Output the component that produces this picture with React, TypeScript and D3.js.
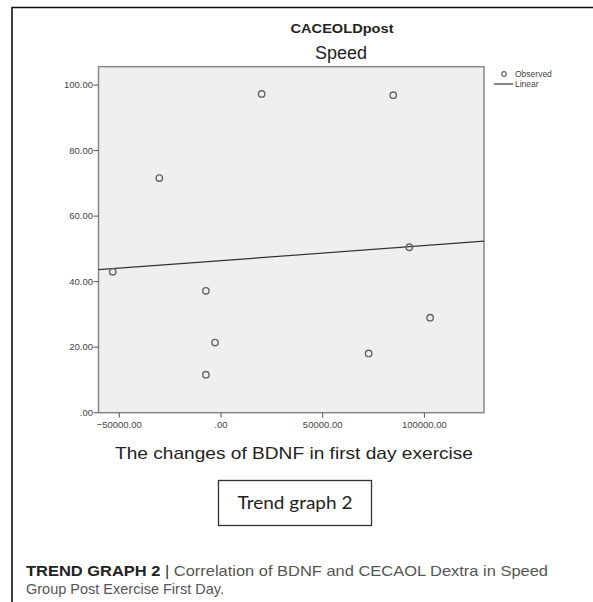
import * as d3 from 'd3';

// Observed points (BDNF change vs CACEOLDpost speed score)
const bdnfChange = [-53200, -30300, 20000, -7400, -2900, -7400, 84700, 92600, 102800, 72600];
const speedScore = [43.0, 71.6, 97.3, 37.2, 21.4, 11.6, 96.9, 50.5, 29.0, 18.1];

const xTicks = [-50000, 0, 50000, 100000];
const yTicks = [0, 20, 40, 60, 80, 100];

const X_DOMAIN: [number, number] = [-60200, 129300];
const Y_DOMAIN: [number, number] = [0, 105.6];

const W = 593;
const H = 602;
const plot = { left: 98.5, right: 484, top: 66.7, bottom: 412.7 };

// SPSS style labels: ".00", "-50000.00"
const spssFmt = (v: number) => d3.format('.2f')(v).replace(/^(-?)0\./, '$1.');

export default function App() {
  const x = d3.scaleLinear().domain(X_DOMAIN).range([plot.left, plot.right]);
  const y = d3.scaleLinear().domain(Y_DOMAIN).range([plot.bottom, plot.top]);

  // least squares fit for the "Linear" line
  const mx = d3.mean(bdnfChange) as number;
  const my = d3.mean(speedScore) as number;
  const sxy = d3.sum(bdnfChange, (v, i) => (v - mx) * (speedScore[i] - my));
  const sxx = d3.sum(bdnfChange, (v) => (v - mx) * (v - mx));
  const slope = sxy / sxx;
  const fit = (v: number) => my + slope * (v - mx);
  const line = d3.line<number>().x((d) => x(d)).y((d) => y(fit(d)));

  const sans = 'Arial, "Liberation Sans", sans-serif';

  return (
    <svg
      width={W}
      height={H}
      style={{ position: 'absolute', left: 0, top: 0, background: '#fff' }}
      fontFamily={sans}
    >
      {/* outer frame */}
      <path d={`M12,${H} V7.5 H${W}`} fill="none" stroke="#111" strokeWidth={1.6} />

      {/* titles */}
      <text x={342} y={33} textAnchor="middle" fontWeight="bold" fontSize={13} fill="#222" textLength={103} lengthAdjust="spacingAndGlyphs">
        CACEOLDpost
      </text>
      <text x={341} y={59} textAnchor="middle" fontSize={18} fill="#222">
        Speed
      </text>

      {/* plot area */}
      <rect
        x={plot.left}
        y={plot.top}
        width={plot.right - plot.left}
        height={plot.bottom - plot.top}
        fill="#efefef"
        stroke="#888"
        strokeWidth={1.5}
      />

      {/* y axis */}
      {yTicks.map((t) => (
        <g key={`y${t}`}>
          <line x1={plot.left - 5} x2={plot.left} y1={y(t)} y2={y(t)} stroke="#555" strokeWidth={1} />
          <text x={plot.left - 5.5} y={y(t)} dy="0.35em" textAnchor="end" fontSize={9.5} fill="#444">
            {spssFmt(t)}
          </text>
        </g>
      ))}

      {/* x axis */}
      {xTicks.map((t) => (
        <g key={`x${t}`}>
          <line x1={x(t)} x2={x(t)} y1={plot.bottom} y2={plot.bottom + 5} stroke="#555" strokeWidth={1} />
          <text x={x(t)} y={plot.bottom + 15} textAnchor="middle" fontSize={9.5} fill="#444">
            {spssFmt(t)}
          </text>
        </g>
      ))}

      {/* regression line */}
      <path d={line(X_DOMAIN) || ''} fill="none" stroke="#333" strokeWidth={1.2} />

      {/* observed points */}
      {bdnfChange.map((v, i) => (
        <circle key={i} cx={x(v)} cy={y(speedScore[i])} r={3.2} fill="none" stroke="#666" strokeWidth={1.4} />
      ))}

      {/* legend */}
      <circle cx={504} cy={74} r={2.3} fill="none" stroke="#666" strokeWidth={1.2} />
      <text x={515} y={74} dy="0.35em" fontSize={8.5} fill="#444">Observed</text>
      <line x1={494} x2={513} y1={84} y2={84} stroke="#333" strokeWidth={1.2} />
      <text x={515} y={84} dy="0.35em" fontSize={8.5} fill="#444">Linear</text>

      {/* x axis title */}
      <text x={294} y={459} textAnchor="middle" fontSize={17} fill="#222" textLength={358} lengthAdjust="spacingAndGlyphs">
        The changes of BDNF in first day exercise
      </text>

      {/* trend graph box */}
      <rect x={218.5} y={480.5} width={153} height={45} fill="#fff" stroke="#333" strokeWidth={1.3} />
      <text x={295} y={509} textAnchor="middle" fontSize={18} fill="#222" fontFamily='Lato, "Open Sans", sans-serif' textLength={115} lengthAdjust="spacingAndGlyphs">
        Trend graph 2
      </text>

      {/* caption */}
      <text x={26} y={576} fontSize={14.5} fill="#555" textLength={522} lengthAdjust="spacingAndGlyphs">
        <tspan fontWeight="bold" fill="#222">TREND GRAPH 2</tspan>
        <tspan fill="#333"> | </tspan>
        <tspan>Correlation of BDNF and CECAOL Dextra in Speed</tspan>
      </text>
      <text x={26} y={594} fontSize={14.5} fill="#555">
        Group Post Exercise First Day.
      </text>
    </svg>
  );
}
